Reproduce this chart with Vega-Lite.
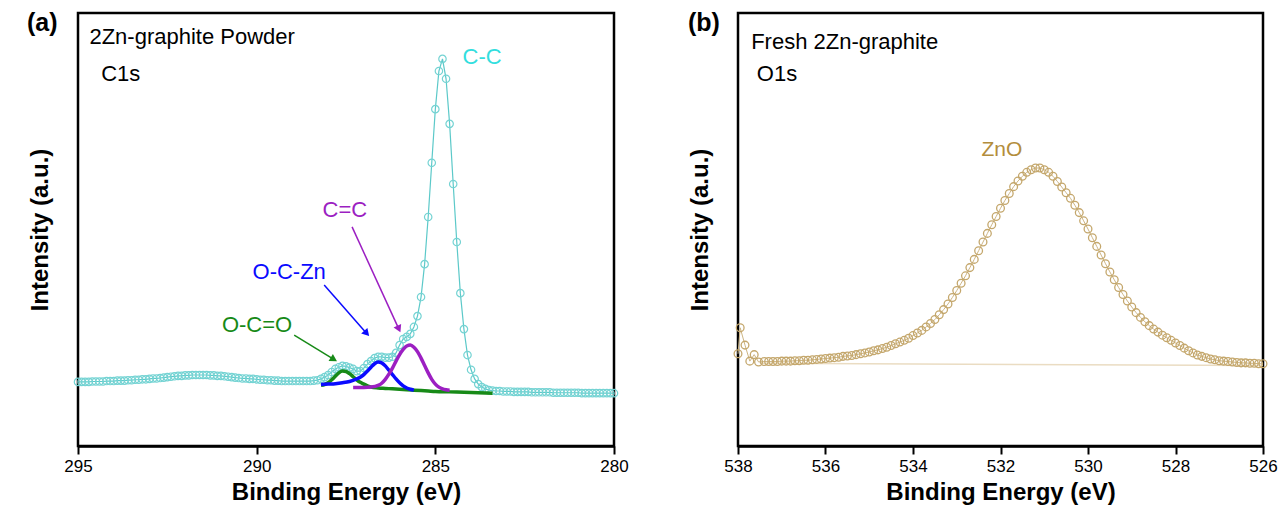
{
"$schema": "https://vega.github.io/schema/vega-lite/v6.json",
"background": "white",
"padding": {"left": 25, "top": 10, "right": 0, "bottom": 0},
"datasets": {
"c1s": [
{"E":295.0,"I":14.8},{"E":294.9,"I":14.8},{"E":294.8,"I":14.8},{"E":294.7,"I":14.8},{"E":294.6,"I":14.9},{"E":294.5,"I":14.9},{"E":294.4,"I":14.9},{"E":294.3,"I":14.9},{"E":294.2,"I":15.0},{"E":294.1,"I":15.0},
{"E":294.0,"I":15.0},{"E":293.9,"I":15.1},{"E":293.8,"I":15.1},{"E":293.7,"I":15.1},{"E":293.6,"I":15.2},{"E":293.5,"I":15.2},{"E":293.4,"I":15.3},{"E":293.3,"I":15.3},{"E":293.2,"I":15.4},{"E":293.1,"I":15.4},
{"E":293.0,"I":15.5},{"E":292.9,"I":15.6},{"E":292.8,"I":15.6},{"E":292.7,"I":15.7},{"E":292.6,"I":15.8},{"E":292.5,"I":15.9},{"E":292.4,"I":16.0},{"E":292.3,"I":16.1},{"E":292.2,"I":16.2},{"E":292.1,"I":16.2},
{"E":292.0,"I":16.3},{"E":291.9,"I":16.3},{"E":291.8,"I":16.4},{"E":291.7,"I":16.4},{"E":291.6,"I":16.4},{"E":291.5,"I":16.4},{"E":291.4,"I":16.4},{"E":291.3,"I":16.3},{"E":291.2,"I":16.3},{"E":291.1,"I":16.2},
{"E":291.0,"I":16.2},{"E":290.9,"I":16.1},{"E":290.8,"I":16.0},{"E":290.7,"I":15.9},{"E":290.6,"I":15.8},{"E":290.5,"I":15.7},{"E":290.4,"I":15.6},{"E":290.3,"I":15.6},{"E":290.2,"I":15.5},{"E":290.1,"I":15.5},
{"E":290.0,"I":15.4},{"E":289.9,"I":15.3},{"E":289.8,"I":15.3},{"E":289.7,"I":15.2},{"E":289.6,"I":15.2},{"E":289.5,"I":15.1},{"E":289.4,"I":15.1},{"E":289.3,"I":15.0},{"E":289.2,"I":15.0},{"E":289.1,"I":15.0},
{"E":289.0,"I":15.0},{"E":288.9,"I":15.0},{"E":288.8,"I":15.0},{"E":288.7,"I":15.0},{"E":288.6,"I":15.0},{"E":288.5,"I":15.0},{"E":288.4,"I":15.1},{"E":288.3,"I":15.2},{"E":288.2,"I":15.5},{"E":288.1,"I":15.9},
{"E":288.0,"I":16.4},{"E":287.9,"I":17.1},{"E":287.8,"I":17.8},{"E":287.7,"I":18.2},{"E":287.6,"I":18.5},{"E":287.5,"I":18.4},{"E":287.4,"I":18.1},{"E":287.3,"I":17.8},{"E":287.2,"I":17.3},{"E":287.1,"I":17.3},
{"E":287.0,"I":18.0},{"E":286.9,"I":18.9},{"E":286.8,"I":19.6},{"E":286.7,"I":20.3},{"E":286.6,"I":20.6},{"E":286.5,"I":20.6},{"E":286.4,"I":20.4},{"E":286.3,"I":20.4},{"E":286.2,"I":20.6},{"E":286.1,"I":21.5},
{"E":286.0,"I":23.3},{"E":285.9,"I":24.7},{"E":285.8,"I":25.2},{"E":285.7,"I":25.9},{"E":285.6,"I":27.5},{"E":285.5,"I":30.0},{"E":285.4,"I":34.4},{"E":285.3,"I":42.0},{"E":285.2,"I":52.9},{"E":285.1,"I":65.4},
{"E":285.0,"I":77.8},{"E":284.9,"I":86.6},{"E":284.8,"I":89.4},{"E":284.7,"I":84.8},{"E":284.6,"I":74.4},{"E":284.5,"I":60.5},{"E":284.4,"I":47.1},{"E":284.3,"I":35.3},{"E":284.2,"I":27.0},{"E":284.1,"I":21.0},
{"E":284.0,"I":17.6},{"E":283.9,"I":15.5},{"E":283.8,"I":14.3},{"E":283.7,"I":13.6},{"E":283.6,"I":13.2},{"E":283.5,"I":12.9},{"E":283.4,"I":12.8},{"E":283.3,"I":12.7},{"E":283.2,"I":12.7},{"E":283.1,"I":12.6},
{"E":283.0,"I":12.6},{"E":282.9,"I":12.6},{"E":282.8,"I":12.5},{"E":282.7,"I":12.5},{"E":282.6,"I":12.5},{"E":282.5,"I":12.5},{"E":282.4,"I":12.5},{"E":282.3,"I":12.4},{"E":282.2,"I":12.4},{"E":282.1,"I":12.4},
{"E":282.0,"I":12.4},{"E":281.9,"I":12.4},{"E":281.8,"I":12.4},{"E":281.7,"I":12.3},{"E":281.6,"I":12.3},{"E":281.5,"I":12.3},{"E":281.4,"I":12.3},{"E":281.3,"I":12.3},{"E":281.2,"I":12.3},{"E":281.1,"I":12.3},
{"E":281.0,"I":12.3},{"E":280.9,"I":12.2},{"E":280.8,"I":12.2},{"E":280.7,"I":12.2},{"E":280.6,"I":12.2},{"E":280.5,"I":12.2},{"E":280.4,"I":12.2},{"E":280.3,"I":12.2},{"E":280.2,"I":12.2},{"E":280.1,"I":12.2},
{"E":280.0,"I":12.2}
],
"c1s_fit": [
{"c":"OCeqO","E":288.2,"I":14.0},{"c":"OCeqO","E":288.1,"I":14.2},{"c":"OCeqO","E":288.0,"I":14.6},{"c":"OCeqO","E":287.9,"I":15.3},{"c":"OCeqO","E":287.8,"I":16.1},{"c":"OCeqO","E":287.7,"I":16.9},{"c":"OCeqO","E":287.6,"I":17.3},{"c":"OCeqO","E":287.5,"I":17.2},{"c":"OCeqO","E":287.4,"I":16.7},{"c":"OCeqO","E":287.3,"I":16.0},{"c":"OCeqO","E":287.2,"I":15.3},{"c":"OCeqO","E":287.1,"I":14.7},{"c":"OCeqO","E":287.0,"I":14.3},{"c":"OCeqO","E":286.9,"I":13.9},{"c":"OCeqO","E":286.8,"I":13.6},{"c":"OCeqO","E":286.6,"I":13.4},{"c":"OCeqO","E":286.4,"I":13.3},{"c":"OCeqO","E":286.2,"I":13.2},{"c":"OCeqO","E":286.0,"I":13.1},{"c":"OCeqO","E":285.8,"I":13.0},{"c":"OCeqO","E":285.6,"I":12.9},{"c":"OCeqO","E":285.4,"I":12.8},{"c":"OCeqO","E":285.2,"I":12.7},{"c":"OCeqO","E":285.0,"I":12.6},{"c":"OCeqO","E":284.6,"I":12.5},{"c":"OCeqO","E":284.2,"I":12.4},{"c":"OCeqO","E":283.8,"I":12.3},{"c":"OCeqO","E":283.4,"I":12.2},
{"c":"OCZn","E":288.2,"I":14.2},{"c":"OCZn","E":288.0,"I":14.3},{"c":"OCZn","E":287.8,"I":14.4},{"c":"OCZn","E":287.6,"I":14.6},{"c":"OCZn","E":287.4,"I":14.9},{"c":"OCZn","E":287.2,"I":15.5},{"c":"OCZn","E":287.1,"I":15.9},{"c":"OCZn","E":287.0,"I":16.5},{"c":"OCZn","E":286.9,"I":17.3},{"c":"OCZn","E":286.8,"I":18.2},{"c":"OCZn","E":286.7,"I":19.0},{"c":"OCZn","E":286.6,"I":19.4},{"c":"OCZn","E":286.5,"I":19.2},{"c":"OCZn","E":286.4,"I":18.5},{"c":"OCZn","E":286.3,"I":17.5},{"c":"OCZn","E":286.2,"I":16.5},{"c":"OCZn","E":286.1,"I":15.5},{"c":"OCZn","E":286.0,"I":14.6},{"c":"OCZn","E":285.9,"I":13.9},{"c":"OCZn","E":285.8,"I":13.4},{"c":"OCZn","E":285.7,"I":13.1},{"c":"OCZn","E":285.6,"I":12.9},
{"c":"CeqC","E":287.3,"I":13.5},{"c":"CeqC","E":287.0,"I":13.5},{"c":"CeqC","E":286.8,"I":13.6},{"c":"CeqC","E":286.6,"I":14.0},{"c":"CeqC","E":286.5,"I":14.5},{"c":"CeqC","E":286.4,"I":15.4},{"c":"CeqC","E":286.3,"I":16.6},{"c":"CeqC","E":286.2,"I":18.0},{"c":"CeqC","E":286.1,"I":19.6},{"c":"CeqC","E":286.0,"I":21.1},{"c":"CeqC","E":285.9,"I":22.3},{"c":"CeqC","E":285.8,"I":23.1},{"c":"CeqC","E":285.7,"I":23.3},{"c":"CeqC","E":285.6,"I":22.8},{"c":"CeqC","E":285.5,"I":21.8},{"c":"CeqC","E":285.4,"I":20.3},{"c":"CeqC","E":285.3,"I":18.6},{"c":"CeqC","E":285.2,"I":16.9},{"c":"CeqC","E":285.1,"I":15.4},{"c":"CeqC","E":285.0,"I":14.3},{"c":"CeqC","E":284.9,"I":13.6},{"c":"CeqC","E":284.8,"I":13.2},{"c":"CeqC","E":284.7,"I":13.0},{"c":"CeqC","E":284.6,"I":12.9}
],
"c1s_arrows": [
{"c":"CeqC","E":287.33,"I":50.6,"E2":286.02,"I2":27.0},
{"c":"OCZn","E":288.11,"I":37.2,"E2":286.92,"I2":26.0},
{"c":"OCeqO","E":288.95,"I":25.6,"E2":287.84,"I2":20.0}
],
"c1s_labels": [
{"c":"CC","t":"C-C","E":283.69,"I":89.8},
{"c":"CeqC","t":"C=C","E":287.53,"I":54.5},
{"c":"OCZn","t":"O-C-Zn","E":289.09,"I":40.2},
{"c":"OCeqO","t":"O-C=O","E":289.99,"I":27.9}
],
"o1s": [
{"E":538.0,"I":21.3},{"E":537.95,"I":27.3},{"E":537.84,"I":23.3},{"E":537.73,"I":19.6},{"E":537.63,"I":21.1},{"E":537.53,"I":19.4},
{"E":537.4,"I":19.5},{"E":537.3,"I":19.5},{"E":537.2,"I":19.5},{"E":537.1,"I":19.5},{"E":537.0,"I":19.6},{"E":536.9,"I":19.6},{"E":536.8,"I":19.6},{"E":536.7,"I":19.7},{"E":536.6,"I":19.7},{"E":536.5,"I":19.8},
{"E":536.4,"I":19.8},{"E":536.3,"I":19.9},{"E":536.2,"I":20.0},{"E":536.1,"I":20.1},{"E":536.0,"I":20.2},{"E":535.9,"I":20.3},{"E":535.8,"I":20.4},{"E":535.7,"I":20.5},{"E":535.6,"I":20.7},{"E":535.5,"I":20.8},
{"E":535.4,"I":20.9},{"E":535.3,"I":21.1},{"E":535.2,"I":21.3},{"E":535.1,"I":21.5},{"E":535.0,"I":21.7},{"E":534.9,"I":22.0},{"E":534.8,"I":22.2},{"E":534.7,"I":22.5},{"E":534.6,"I":22.8},{"E":534.5,"I":23.2},
{"E":534.4,"I":23.6},{"E":534.3,"I":24.0},{"E":534.2,"I":24.4},{"E":534.1,"I":24.9},{"E":534.0,"I":25.5},{"E":533.9,"I":26.1},{"E":533.8,"I":26.7},{"E":533.7,"I":27.5},{"E":533.6,"I":28.3},{"E":533.5,"I":29.2},
{"E":533.4,"I":30.3},{"E":533.3,"I":31.5},{"E":533.2,"I":32.8},{"E":533.1,"I":34.3},{"E":533.0,"I":35.9},{"E":532.9,"I":37.6},{"E":532.8,"I":39.3},{"E":532.7,"I":41.2},{"E":532.6,"I":43.1},{"E":532.5,"I":45.1},
{"E":532.4,"I":47.1},{"E":532.3,"I":49.1},{"E":532.2,"I":51.1},{"E":532.1,"I":53.0},{"E":532.0,"I":54.9},{"E":531.9,"I":56.7},{"E":531.8,"I":58.3},{"E":531.7,"I":59.9},{"E":531.6,"I":61.2},{"E":531.5,"I":62.3},
{"E":531.4,"I":63.2},{"E":531.3,"I":63.8},{"E":531.2,"I":64.2},{"E":531.1,"I":64.2},{"E":531.0,"I":63.8},{"E":530.9,"I":63.2},{"E":530.8,"I":62.3},{"E":530.7,"I":61.1},{"E":530.6,"I":59.8},{"E":530.5,"I":58.5},
{"E":530.4,"I":57.2},{"E":530.3,"I":55.6},{"E":530.2,"I":53.9},{"E":530.1,"I":52.0},{"E":530.0,"I":50.1},{"E":529.9,"I":48.1},{"E":529.8,"I":46.1},{"E":529.7,"I":44.1},{"E":529.6,"I":42.1},{"E":529.5,"I":40.2},
{"E":529.4,"I":38.4},{"E":529.3,"I":36.6},{"E":529.2,"I":35.0},{"E":529.1,"I":33.5},{"E":529.0,"I":32.1},{"E":528.9,"I":30.8},{"E":528.8,"I":29.7},{"E":528.7,"I":28.7},{"E":528.6,"I":27.8},{"E":528.5,"I":27.0},
{"E":528.4,"I":26.3},{"E":528.3,"I":25.6},{"E":528.2,"I":25.0},{"E":528.1,"I":24.4},{"E":528.0,"I":23.8},{"E":527.9,"I":23.2},{"E":527.8,"I":22.6},{"E":527.7,"I":22.0},{"E":527.6,"I":21.5},{"E":527.5,"I":21.0},
{"E":527.4,"I":20.7},{"E":527.3,"I":20.4},{"E":527.2,"I":20.1},{"E":527.1,"I":19.9},{"E":527.0,"I":19.7},{"E":526.9,"I":19.6},{"E":526.8,"I":19.5},{"E":526.7,"I":19.4},{"E":526.6,"I":19.3},{"E":526.5,"I":19.2},
{"E":526.4,"I":19.2},{"E":526.3,"I":19.1},{"E":526.2,"I":19.1},{"E":526.1,"I":19.0},{"E":526.0,"I":19.0}
],
"o1s_bg": [{"E":537.5,"I":19.1},{"E":526.0,"I":18.6}]
},
"hconcat": [
{
"width": 536, "height": 433,
"layer": [
{"data": {"name": "c1s"}, "mark": {"type": "line", "color": "#5cc9c9", "strokeWidth": 1.2},
 "encoding": {
  "x": {"field": "E", "type": "quantitative", "scale": {"domain": [280, 295], "reverse": true, "nice": false, "zero": false}, "axis": {"values": [295, 290, 285, 280], "format": "d", "title": "Binding Energy (eV)"}},
  "y": {"field": "I", "type": "quantitative", "scale": {"domain": [0, 100], "nice": false}, "axis": {"title": "Intensity (a.u.)"}}}},
{"data": {"name": "c1s"}, "mark": {"type": "point", "shape": "circle", "filled": false, "color": "#74d3d3", "size": 55, "strokeWidth": 1.2, "opacity": 1},
 "encoding": {"x": {"field": "E", "type": "quantitative"}, "y": {"field": "I", "type": "quantitative"}}},
{"data": {"name": "c1s_fit"}, "mark": {"type": "line", "strokeWidth": 3.5, "interpolate": "monotone"},
 "encoding": {"x": {"field": "E", "type": "quantitative"}, "y": {"field": "I", "type": "quantitative"},
  "color": {"field": "c", "type": "nominal", "scale": {"domain": ["CC", "CeqC", "OCZn", "OCeqO"], "range": ["#33dede", "#9c1fc2", "#0a0aff", "#178a17"]}, "legend": null}}},
{"data": {"name": "c1s_arrows"}, "mark": {"type": "rule", "strokeWidth": 1.5},
 "encoding": {"x": {"field": "E", "type": "quantitative"}, "y": {"field": "I", "type": "quantitative"}, "x2": {"field": "E2"}, "y2": {"field": "I2"}, "color": {"field": "c", "type": "nominal", "legend": null}}},
{"data": {"name": "c1s_arrows"}, "transform": [{"filter": "datum.c == 'CeqC'"}], "mark": {"type": "point", "shape": "triangle-up", "filled": true, "size": 70, "angle": 155, "opacity": 1},
 "encoding": {"x": {"field": "E2", "type": "quantitative"}, "y": {"field": "I2", "type": "quantitative"}, "color": {"field": "c", "type": "nominal", "legend": null}}},
{"data": {"name": "c1s_arrows"}, "transform": [{"filter": "datum.c == 'OCZn'"}], "mark": {"type": "point", "shape": "triangle-up", "filled": true, "size": 70, "angle": 138, "opacity": 1},
 "encoding": {"x": {"field": "E2", "type": "quantitative"}, "y": {"field": "I2", "type": "quantitative"}, "color": {"field": "c", "type": "nominal", "legend": null}}},
{"data": {"name": "c1s_arrows"}, "transform": [{"filter": "datum.c == 'OCeqO'"}], "mark": {"type": "point", "shape": "triangle-up", "filled": true, "size": 70, "angle": 121, "opacity": 1},
 "encoding": {"x": {"field": "E2", "type": "quantitative"}, "y": {"field": "I2", "type": "quantitative"}, "color": {"field": "c", "type": "nominal", "legend": null}}},
{"data": {"name": "c1s_labels"}, "mark": {"type": "text", "fontSize": 22, "align": "center", "baseline": "middle"},
 "encoding": {"x": {"field": "E", "type": "quantitative"}, "y": {"field": "I", "type": "quantitative"}, "text": {"field": "t"}, "color": {"field": "c", "type": "nominal", "legend": null}}},
{"data": {"values": [{"t": "2Zn-graphite Powder", "E": 294.68, "I": 94.5}, {"t": "C1s", "E": 294.35, "I": 85.9}]}, "mark": {"type": "text", "fontSize": 22, "align": "left", "baseline": "middle", "color": "black"},
 "encoding": {"x": {"field": "E", "type": "quantitative"}, "y": {"field": "I", "type": "quantitative"}, "text": {"field": "t"}}},
{"data": {"values": [{"t": "(a)", "E": 296.0, "I": 97.6}]}, "mark": {"type": "text", "fontSize": 25, "fontWeight": "bold", "align": "center", "baseline": "middle", "color": "black"},
 "encoding": {"x": {"field": "E", "type": "quantitative"}, "y": {"field": "I", "type": "quantitative"}, "text": {"field": "t"}}}
]
},
{
"width": 525, "height": 433,
"layer": [
{"data": {"name": "o1s_bg"}, "mark": {"type": "line", "color": "#eadcc2", "strokeWidth": 1.5},
 "encoding": {
  "x": {"field": "E", "type": "quantitative", "scale": {"domain": [526, 538], "reverse": true, "nice": false, "zero": false}, "axis": {"values": [538, 536, 534, 532, 530, 528, 526], "format": "d", "title": "Binding Energy (eV)"}},
  "y": {"field": "I", "type": "quantitative", "scale": {"domain": [0, 100], "nice": false}, "axis": {"title": "Intensity (a.u.)"}}}},
{"data": {"name": "o1s"}, "mark": {"type": "line", "color": "#cdb584", "strokeWidth": 1},
 "encoding": {"x": {"field": "E", "type": "quantitative"}, "y": {"field": "I", "type": "quantitative"}}},
{"data": {"name": "o1s"}, "mark": {"type": "point", "shape": "circle", "filled": false, "color": "#c4a76c", "size": 60, "strokeWidth": 1.3, "opacity": 1},
 "encoding": {"x": {"field": "E", "type": "quantitative"}, "y": {"field": "I", "type": "quantitative"}}},
{"data": {"values": [{"t": "Fresh 2Zn-graphite", "E": 537.70, "I": 93.3}, {"t": "O1s", "E": 537.57, "I": 85.9}]}, "mark": {"type": "text", "fontSize": 22, "align": "left", "baseline": "middle", "color": "black"},
 "encoding": {"x": {"field": "E", "type": "quantitative"}, "y": {"field": "I", "type": "quantitative"}, "text": {"field": "t"}}},
{"data": {"values": [{"t": "ZnO", "E": 531.97, "I": 68.4}]}, "mark": {"type": "text", "fontSize": 21, "align": "center", "baseline": "middle", "color": "#b38d3c"},
 "encoding": {"x": {"field": "E", "type": "quantitative"}, "y": {"field": "I", "type": "quantitative"}, "text": {"field": "t"}}},
{"data": {"values": [{"t": "(b)", "E": 538.78, "I": 97.6}]}, "mark": {"type": "text", "fontSize": 25, "fontWeight": "bold", "align": "center", "baseline": "middle", "color": "black"},
 "encoding": {"x": {"field": "E", "type": "quantitative"}, "y": {"field": "I", "type": "quantitative"}, "text": {"field": "t"}}}
]
}
],
"config": {
 "font": "Liberation Sans",
 "view": {"stroke": "black", "strokeWidth": 2.5},
 "concat": {"spacing": 56},
 "axis": {"grid": false, "domainColor": "black", "domainWidth": 2.5, "tickColor": "black", "tickWidth": 2, "tickSize": 8, "labelColor": "black", "labelFontSize": 17, "labelPadding": 4, "titleColor": "black", "titleFontSize": 24, "titleFontWeight": "bold", "labelFont": "Liberation Sans", "titleFont": "Liberation Sans"},
 "axisY": {"labels": false, "ticks": false, "domain": false, "titlePadding": 26, "titleFontSize": 24},
 "axisX": {"titlePadding": 6, "labelFlush": false}
}
}
